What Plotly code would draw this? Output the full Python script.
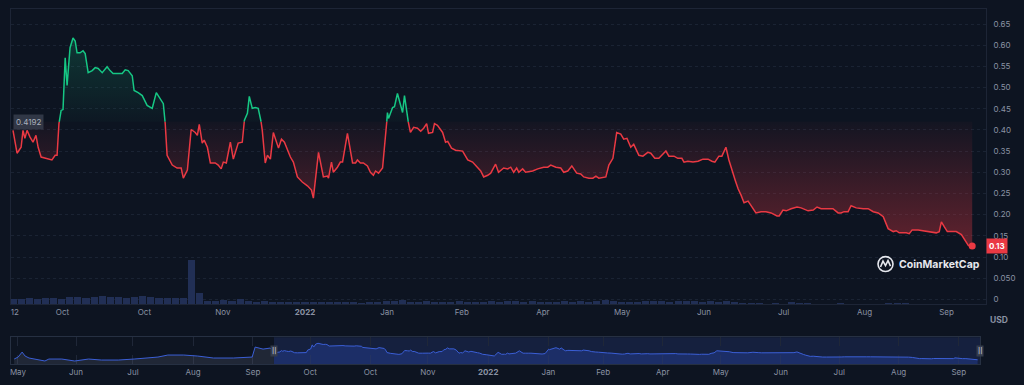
import numpy as np
import plotly.graph_objects as go

# ---------------- data ----------------
base_price = 0.4192

days = [
    0, 1.5, 3.0, 3.7, 4.4, 5.2, 6.3, 7.4, 8.5, 9.3,
    10.4, 11.9, 14.4, 15.6, 16.3, 17.0, 17.8, 18.5, 19.3, 20.0,
    20.4, 21.1, 22.2, 23.0, 23.7, 24.8, 25.9, 26.7, 27.8, 29.3,
    30.4, 31.5, 33.0, 34.1, 34.8, 35.9, 37.0, 38.9, 40.4, 41.5,
    42.6, 44.1, 44.8, 46.3, 47.8, 49.6, 51.5, 53.0, 54.1, 55.6,
    56.3, 57.0, 58.9, 60.7, 62.2, 63.0, 64.5, 65.9, 67.4, 68.2,
    68.9, 70.0, 70.7, 71.9, 73.0, 74.8, 75.9, 77.0, 77.8, 78.9,
    80.4, 81.5, 83.3, 84.8, 85.6, 86.7, 87.4, 88.5, 89.6, 90.7,
    91.9, 92.2, 93.3, 94.1, 95.2, 96.3, 98.2, 99.3, 100.4, 102.6,
    103.7, 105.2, 107.0, 108.9, 110.4, 111.1, 113.0, 114.8, 116.3, 116.7,
    117.8, 118.5, 120.0, 121.1, 121.9, 123.7, 125.6, 126.7, 127.4, 128.5,
    129.6, 131.1, 132.2, 133.3, 134.1, 135.2, 136.7, 137.0, 138.2, 138.5,
    138.9, 140.4, 141.1, 142.2, 144.1, 144.8, 146.3, 147.0, 148.2, 149.6,
    150.8, 151.9, 153.0, 153.7, 155.2, 155.9, 157.0, 158.9, 160.0, 160.8,
    162.2, 163.7, 166.3, 168.2, 170.0, 171.9, 173.0, 174.1, 175.6, 176.7,
    178.5, 179.6, 181.5, 183.0, 184.1, 185.2, 186.3, 187.1, 188.5, 189.6,
    192.2, 194.1, 196.3, 197.8, 198.9, 200.8, 202.6, 203.7, 205.2, 206.7,
    208.5, 210.0, 211.1, 213.0, 214.5, 215.6, 216.7, 219.3, 220.4, 221.9,
    223.3, 224.8, 225.9, 227.1, 228.5, 229.6, 231.5, 233.0, 234.8, 235.9,
    237.4, 238.9, 241.5, 242.6, 244.5, 245.9, 247.4, 248.2, 249.6, 251.5,
    253.4, 255.2, 257.1, 258.5, 259.6, 261.1, 262.2, 263.7, 264.8, 267.1,
    268.2, 269.3, 270.4, 271.9, 273.4, 274.8, 276.7, 278.5, 280.4, 282.6,
    283.4, 284.8, 286.0, 287.8, 290.0, 291.5, 294.1, 296.0, 297.4, 298.9,
    300.8, 303.3, 305.2, 306.3, 307.4, 308.9, 310.0, 311.9, 314.5, 316.3,
    318.2, 320.0, 321.9, 323.7, 325.6, 326.7, 327.8, 330.4, 331.5, 332.6,
    334.8, 336.7, 338.9, 341.5, 342.6, 343.4, 344.5, 345.6, 347.1, 348.9,
    350.8, 351.9, 353.4, 354.8,
]

price = [
    0.399, 0.345, 0.359, 0.399, 0.380, 0.399, 0.383, 0.371, 0.387, 0.359,
    0.336, 0.333, 0.329, 0.340, 0.340, 0.415, 0.446, 0.448, 0.570, 0.505,
    0.533, 0.594, 0.617, 0.610, 0.582, 0.582, 0.587, 0.580, 0.535, 0.540,
    0.547, 0.545, 0.535, 0.545, 0.549, 0.540, 0.533, 0.533, 0.533, 0.542,
    0.540, 0.528, 0.493, 0.488, 0.481, 0.458, 0.451, 0.488, 0.477, 0.462,
    0.415, 0.340, 0.317, 0.310, 0.310, 0.286, 0.305, 0.401, 0.394, 0.387,
    0.413, 0.369, 0.376, 0.359, 0.322, 0.322, 0.317, 0.308, 0.324, 0.322,
    0.371, 0.331, 0.369, 0.371, 0.423, 0.439, 0.479, 0.451, 0.453, 0.451,
    0.415, 0.399, 0.322, 0.340, 0.331, 0.394, 0.357, 0.378, 0.371, 0.336,
    0.324, 0.289, 0.277, 0.268, 0.258, 0.239, 0.347, 0.289, 0.291, 0.286,
    0.324, 0.300, 0.312, 0.324, 0.324, 0.392, 0.322, 0.322, 0.329, 0.322,
    0.322, 0.315, 0.300, 0.293, 0.303, 0.298, 0.310, 0.329, 0.415, 0.441,
    0.427, 0.453, 0.455, 0.486, 0.441, 0.481, 0.415, 0.394, 0.406, 0.404,
    0.397, 0.404, 0.415, 0.392, 0.394, 0.415, 0.411, 0.394, 0.371, 0.373,
    0.357, 0.352, 0.350, 0.329, 0.324, 0.310, 0.303, 0.289, 0.293, 0.298,
    0.319, 0.300, 0.310, 0.308, 0.312, 0.300, 0.310, 0.300, 0.308, 0.300,
    0.303, 0.308, 0.312, 0.312, 0.317, 0.312, 0.310, 0.300, 0.303, 0.315,
    0.298, 0.296, 0.289, 0.286, 0.286, 0.291, 0.286, 0.289, 0.317, 0.333,
    0.394, 0.390, 0.378, 0.380, 0.359, 0.366, 0.340, 0.338, 0.347, 0.345,
    0.333, 0.333, 0.350, 0.338, 0.338, 0.333, 0.333, 0.324, 0.326, 0.324,
    0.326, 0.331, 0.331, 0.326, 0.324, 0.338, 0.338, 0.359, 0.329, 0.282,
    0.261, 0.246, 0.228, 0.232, 0.218, 0.204, 0.207, 0.207, 0.204, 0.197,
    0.197, 0.211, 0.209, 0.214, 0.218, 0.216, 0.209, 0.211, 0.218, 0.214,
    0.214, 0.214, 0.204, 0.204, 0.207, 0.207, 0.221, 0.216, 0.214, 0.214,
    0.207, 0.204, 0.195, 0.167, 0.160, 0.162, 0.157, 0.157, 0.155, 0.164,
    0.164, 0.162, 0.160, 0.157, 0.160, 0.183, 0.171, 0.160, 0.160, 0.160,
    0.153, 0.141, 0.127, 0.126,
]

# volume (millions USD), one bar per 3 days
vol_days = list(range(0, 355, 3))
volume = [
    12, 11, 13, 12, 14, 13, 12, 15, 16, 14,
    15, 17, 16, 15, 14, 16, 17, 15, 14, 13,
    14, 13, 95, 24, 8, 8, 9, 8, 11, 7,
    6, 8, 5, 5, 6, 5, 5, 4, 5, 6,
    5, 4, 4, 3, 4, 5, 8, 7, 9, 6,
    6, 7, 6, 5, 6, 7, 6, 5, 6, 7,
    6, 7, 8, 6, 7, 6, 5, 6, 7, 6,
    7, 6, 8, 9, 7, 5, 4, 6, 7, 8,
    7, 6, 7, 8, 7, 6, 7, 6, 8, 5,
    2, 2, 2, 1, 2, 1, 6, 2, 2, 1,
    1, 1, 2, 1, 1, 1, 1, 1, 2, 3,
    2, 1, 1, 1, 1, 1, 1, 1, 1,
]

# earlier history shown only in the navigator
hist_days = [-131, -129, -127, -125.5, -123.5, -120.5, -115.5, -113.5, -107, -100.5,
             -93.5, -87, -78.5, -70.5, -65.5, -58.5, -53.5, -45.5, -38.5, -30.5,
             -20.5, -11, -9.5, -5.5, -2]
hist_price = [0.148, 0.207, 0.355, 0.237, 0.178, 0.148, 0.089, 0.148, 0.148, 0.089,
              0.148, 0.118, 0.118, 0.148, 0.178, 0.207, 0.267, 0.267, 0.237, 0.178,
              0.178, 0.207, 0.504, 0.444, 0.474]

main_tick_days = [0.7, 18.3, 48.6, 77.6, 108, 138.4, 166, 196, 225.3, 255.6, 285, 315, 345.3]
main_tick_text = ["12", "Oct", "Oct", "Nov", "<b>2022</b>", "Jan", "Feb", "Apr", "May", "Jun", "Jul", "Aug", "Sep"]
nav_pre_tick_days = [-129.1, -99.8, -71.1, -40.8, -10.6]
nav_pre_tick_text = ["May", "Jun", "Jul", "Aug", "Sep"]

y_tick_vals = [0, 0.05, 0.10, 0.15, 0.20, 0.25, 0.30, 0.35, 0.40, 0.45, 0.50, 0.55, 0.60, 0.65]
y_tick_text = ["0", "0.050", "0.10", "0.15", "0.20", "0.25", "0.30", "0.35", "0.40", "0.45", "0.50", "0.55", "0.60", "0.65"]

# ---------------- styling ----------------
BG = "#0d1421"
GREEN = "#16c784"
RED = "#ea3943"
TICK = "#8a92a3"
FONT = "Inter, Noto Sans, sans-serif"

n = min(len(days), len(price))
d_arr = np.array(days[:n], dtype=float)
p_arr = np.array(price[:n], dtype=float)

# insert crossing points with the baseline so the colour split is exact
xs, ys = [d_arr[0]], [p_arr[0]]
for i in range(1, n):
    x0, y0, x1, y1 = d_arr[i - 1], p_arr[i - 1], d_arr[i], p_arr[i]
    if (y0 - base_price) * (y1 - base_price) < 0:
        t = (base_price - y0) / (y1 - y0)
        xs.append(x0 + t * (x1 - x0))
        ys.append(base_price)
    xs.append(x1)
    ys.append(y1)
xs = np.array(xs)
ys = np.array(ys)
up = np.maximum(ys, base_price)
dn = np.minimum(ys, base_price)
green_line = np.where(ys >= base_price - 1e-9, ys, np.nan)
red_line = np.where(ys <= base_price + 1e-9, ys, np.nan)
base_arr = np.full_like(xs, base_price)

fig = go.Figure()

# volume bars
fig.add_trace(go.Bar(x=vol_days[:len(volume)], y=volume, width=2.6, marker_color="#212f55",
                     marker_line_width=0, xaxis="x", yaxis="y3", hoverinfo="skip"))

# green fill (above baseline)
fig.add_trace(go.Scatter(x=xs, y=base_arr, mode="lines", line=dict(width=0), hoverinfo="skip"))
fig.add_trace(go.Scatter(x=xs, y=up, mode="lines", line=dict(width=0), fill="tonexty",
                         fillgradient=dict(type="vertical",
                                           colorscale=[[0, "rgba(22,199,132,0.02)"], [1, "rgba(22,199,132,0.20)"]],
                                           start=base_price, stop=float(p_arr.max())),
                         hoverinfo="skip"))
# red fill (below baseline)
fig.add_trace(go.Scatter(x=xs, y=base_arr, mode="lines", line=dict(width=0), hoverinfo="skip"))
fig.add_trace(go.Scatter(x=xs, y=dn, mode="lines", line=dict(width=0), fill="tonexty",
                         fillgradient=dict(type="vertical",
                                           colorscale=[[0, "rgba(234,57,67,0.03)"], [1, "rgba(234,57,67,0.38)"]],
                                           start=base_price, stop=float(p_arr.min())),
                         hoverinfo="skip"))

# price lines
fig.add_trace(go.Scatter(x=xs, y=green_line, mode="lines", line=dict(color=GREEN, width=1.5),
                         connectgaps=False, hoverinfo="skip"))
fig.add_trace(go.Scatter(x=xs, y=red_line, mode="lines", line=dict(color=RED, width=1.5),
                         connectgaps=False, hoverinfo="skip"))
# last point dot
fig.add_trace(go.Scatter(x=[d_arr[-1]], y=[p_arr[-1]], mode="markers",
                         marker=dict(color=RED, size=7), hoverinfo="skip"))

# navigator
NAVLINE = "#3b5fd6"
fig.add_trace(go.Scatter(x=hist_days + [days[0]], y=hist_price + [price[0]], mode="lines",
                         line=dict(color=NAVLINE, width=1), fill="tozeroy",
                         fillcolor="rgba(120,130,150,0.18)", xaxis="x2", yaxis="y2", hoverinfo="skip"))
fig.add_trace(go.Scatter(x=d_arr, y=p_arr, mode="lines", line=dict(color=NAVLINE, width=1),
                         fill="tozeroy", fillcolor="rgba(56,97,251,0.22)",
                         xaxis="x2", yaxis="y2", hoverinfo="skip"))

# ---------------- layout ----------------
W, H = 1024, 385
ML, MR, MT, MB = 11, 38, 8, 20
PW, PH = W - ML - MR, H - MT - MB


def px(xp):
    return (xp - ML) / PW


def py(yp):
    return (H - MB - yp) / PH


main_dom = [py(305), 1]
nav_dom = [0, py(338)]

fig.update_layout(
    width=W, height=H,
    margin=dict(l=ML, r=MR, t=MT, b=MB, pad=0),
    paper_bgcolor=BG, plot_bgcolor=BG,
    showlegend=False,
    hovermode=False,
    font=dict(family=FONT, color=TICK, size=8),
    bargap=0,
    xaxis=dict(domain=[0, 1], range=[-0.74, 359.9], tickvals=main_tick_days, ticktext=main_tick_text,
               showgrid=False, zeroline=False, showline=True, mirror=True, linecolor="#1d2536",
               ticks="", tickfont=dict(size=8, color=TICK), anchor="y"),
    yaxis=dict(domain=main_dom, range=[-0.0117, 0.6854], side="right", tickvals=y_tick_vals,
               ticktext=y_tick_text, showgrid=True, gridcolor="#1a2333", griddash="dot", gridwidth=1,
               zeroline=False, showline=True, mirror=True, linecolor="#1d2536", ticks="",
               ticklabelstandoff=5, tickfont=dict(size=8, color=TICK), anchor="x"),
    yaxis3=dict(overlaying="y", range=[0, 630], visible=False, anchor="x"),
    xaxis2=dict(domain=[0, px(980)], range=[-132.6, 356], anchor="y2",
                tickvals=nav_pre_tick_days + main_tick_days[1:],
                ticktext=nav_pre_tick_text + main_tick_text[1:],
                showgrid=True, gridcolor="#1f2738", griddash="dash", zeroline=False,
                showline=True, mirror=True, linecolor="#263042", ticks="",
                tickfont=dict(size=8, color=TICK)),
    yaxis2=dict(domain=nav_dom, range=[0, 0.8], anchor="x2", showgrid=False, zeroline=False,
                showticklabels=False, showline=True, mirror=True, linecolor="#263042", ticks=""),
)

shapes = []
# selected window in navigator
shapes.append(dict(type="rect", xref="x2", yref="y2 domain", x0=0, x1=356, y0=0, y1=1,
                   fillcolor="rgba(40,62,130,0.30)", line=dict(width=0), layer="below"))
# logo icon
shapes.append(dict(type="circle", xref="paper", yref="paper",
                   x0=px(878), x1=px(893), y0=py(272), y1=py(257),
                   line=dict(color="#e6e8ee", width=1.6)))
pts = [(880.5, 267.5), (883, 261.5), (885.5, 266), (888, 261), (890.5, 266.5)]
path = "M " + " L ".join(f"{px(a):.5f} {py(b):.5f}" for a, b in pts)
shapes.append(dict(type="path", xref="paper", yref="paper", path=path,
                   line=dict(color="#e6e8ee", width=1.6)))
fig.update_layout(shapes=shapes)

annotations = [
    dict(xref="paper", yref="y", x=px(12.5), y=base_price, text="0.4192", showarrow=False,
         xanchor="left", yanchor="middle", bgcolor="rgba(55,61,76,0.85)", borderpad=2,
         font=dict(size=8, color="#aab0bd")),
    dict(xref="paper", yref="y", x=1.0, y=float(p_arr[-1]), text=f"<b>{p_arr[-1]:.2f}</b>",
         showarrow=False, xanchor="left", yanchor="middle", bgcolor=RED, borderpad=2,
         font=dict(size=8, color="#ffffff")),
    dict(xref="paper", yref="paper", x=px(897), y=py(264.5), text="<b>CoinMarketCap</b>",
         showarrow=False, xanchor="left", yanchor="middle", font=dict(size=10.5, color="#e6e8ee")),
    dict(xref="paper", yref="paper", x=px(999), y=py(321), text="<b>USD</b>", showarrow=False,
         xanchor="center", yanchor="middle", font=dict(size=8.5, color=TICK)),
    dict(xref="x2", yref="y2 domain", x=0, y=0.5, text="<b>||</b>", showarrow=False,
         xanchor="center", yanchor="middle", bgcolor="#353c4c", borderpad=1,
         font=dict(size=6, color="#aeb4c2")),
    dict(xref="x2", yref="y2 domain", x=356, y=0.5, text="<b>||</b>", showarrow=False,
         xanchor="center", yanchor="middle", bgcolor="#353c4c", borderpad=1,
         font=dict(size=6, color="#aeb4c2")),
]
fig.update_layout(annotations=annotations)

fig.write_html("out.html", config={"displayModeBar": False, "staticPlot": True},
               post_script="document.body.style.margin='0';document.body.style.background='%s';" % BG)
